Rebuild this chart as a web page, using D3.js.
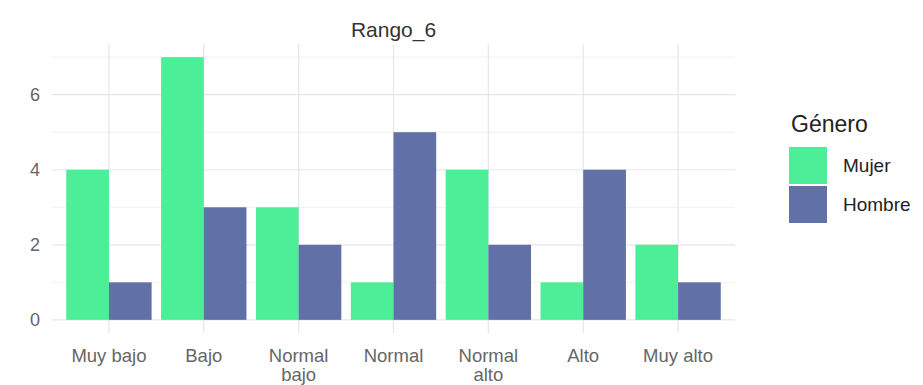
<!DOCTYPE html>
<html>
<head>
<meta charset="utf-8">
<script src="https://cdn.jsdelivr.net/npm/d3@7"></script>
<style>
  html, body { margin: 0; padding: 0; background: #ffffff; }
  svg { display: block; font-family: "Liberation Sans", Arial, sans-serif; }
</style>
</head>
<body>
<svg id="chart" width="923" height="385"></svg>
<script>
const categories = ["Muy bajo", "Bajo", "Normal bajo", "Normal", "Normal alto", "Alto", "Muy alto"];
const categoryLabels = [["Muy bajo"], ["Bajo"], ["Normal", "bajo"], ["Normal"], ["Normal", "alto"], ["Alto"], ["Muy alto"]];
const series = ["Mujer", "Hombre"];
const mujer = [4, 7, 3, 1, 4, 1, 2];
const hombre = [1, 3, 2, 5, 2, 4, 1];
const yTicks = [0, 2, 4, 6];
const yMinor = [1, 3, 5, 7];
const colors = ["#4cee97", "#6171a7"];
const title = "Rango_6";
const legendTitle = "Género";

const svg = d3.select("#chart");
const panel = { left: 52, right: 735, top: 44, bottom: 333 };

const x = d3.scalePoint().domain(categories).range([panel.left, panel.right]).padding(0.6);
const step = x.step();
const sub = d3.scaleBand().domain(series).range([-0.45 * step, 0.45 * step]).padding(0);
const yMax = d3.max(mujer.concat(hombre));
const y = d3.scaleLinear().domain([-0.05 * yMax, yMax * 1.05]).range([panel.bottom, panel.top]);
const color = d3.scaleOrdinal().domain(series).range(colors);

// grid
const g = svg.append("g");
g.selectAll("line.minor").data(yMinor).join("line")
  .attr("x1", panel.left).attr("x2", panel.right)
  .attr("y1", d => y(d)).attr("y2", d => y(d))
  .attr("stroke", "#ececec").attr("stroke-width", 0.8);
g.selectAll("line.major").data(yTicks).join("line")
  .attr("x1", panel.left).attr("x2", panel.right)
  .attr("y1", d => y(d)).attr("y2", d => y(d))
  .attr("stroke", "#e6e6e6").attr("stroke-width", 1.2);
g.selectAll("line.vmajor").data(categories).join("line")
  .attr("x1", d => x(d)).attr("x2", d => x(d))
  .attr("y1", panel.top).attr("y2", panel.bottom)
  .attr("stroke", "#e6e6e6").attr("stroke-width", 1.2);

// bars
const data = categories.map((c, i) => ({ cat: c, values: [{ s: "Mujer", v: mujer[i] }, { s: "Hombre", v: hombre[i] }] }));
const groups = svg.append("g").selectAll("g").data(data).join("g")
  .attr("transform", d => `translate(${x(d.cat)},0)`);
groups.selectAll("rect").data(d => d.values).join("rect")
  .attr("x", d => sub(d.s))
  .attr("width", sub.bandwidth())
  .attr("y", d => y(d.v))
  .attr("height", d => y(0) - y(d.v))
  .attr("fill", d => color(d.s));

// y axis labels
const yAxis = d3.axisLeft(y).tickValues(yTicks).tickSize(0).tickPadding(0);
svg.append("g").attr("transform", `translate(40,0)`).call(yAxis)
  .call(s => s.select(".domain").remove())
  .call(s => s.selectAll("text").attr("font-size", 18).attr("fill", "#666666")
    .attr("font-family", "'Liberation Sans', Arial, sans-serif"));

// x axis labels
const xl = svg.append("g").selectAll("text").data(categories).join("text")
  .attr("x", d => x(d)).attr("y", 362)
  .attr("text-anchor", "middle").attr("font-size", 18.5).attr("fill", "#666666");
xl.each(function (d, i) {
  const lines = categoryLabels[i];
  d3.select(this).selectAll("tspan").data(lines).join("tspan")
    .attr("x", x(d)).attr("dy", (l, j) => j === 0 ? 0 : 19).text(l => l);
});

// title
svg.append("text").attr("x", (panel.left + panel.right) / 2).attr("y", 37)
  .attr("text-anchor", "middle").attr("font-size", 21).attr("fill", "#333333").text(title);

// legend
const lg = svg.append("g").attr("transform", "translate(789,0)");
lg.append("text").attr("x", 2).attr("y", 132).attr("font-size", 23).attr("fill", "#222222").text(legendTitle);
const items = lg.selectAll("g.item").data(series).join("g")
  .attr("transform", (d, i) => `translate(0,${147 + i * 39})`);
items.append("rect").attr("width", 38).attr("height", 37).attr("fill", d => color(d));
items.append("text").attr("x", 54).attr("y", 25).attr("font-size", 19).attr("fill", "#222222").text(d => d);
</script>
</body>
</html>
